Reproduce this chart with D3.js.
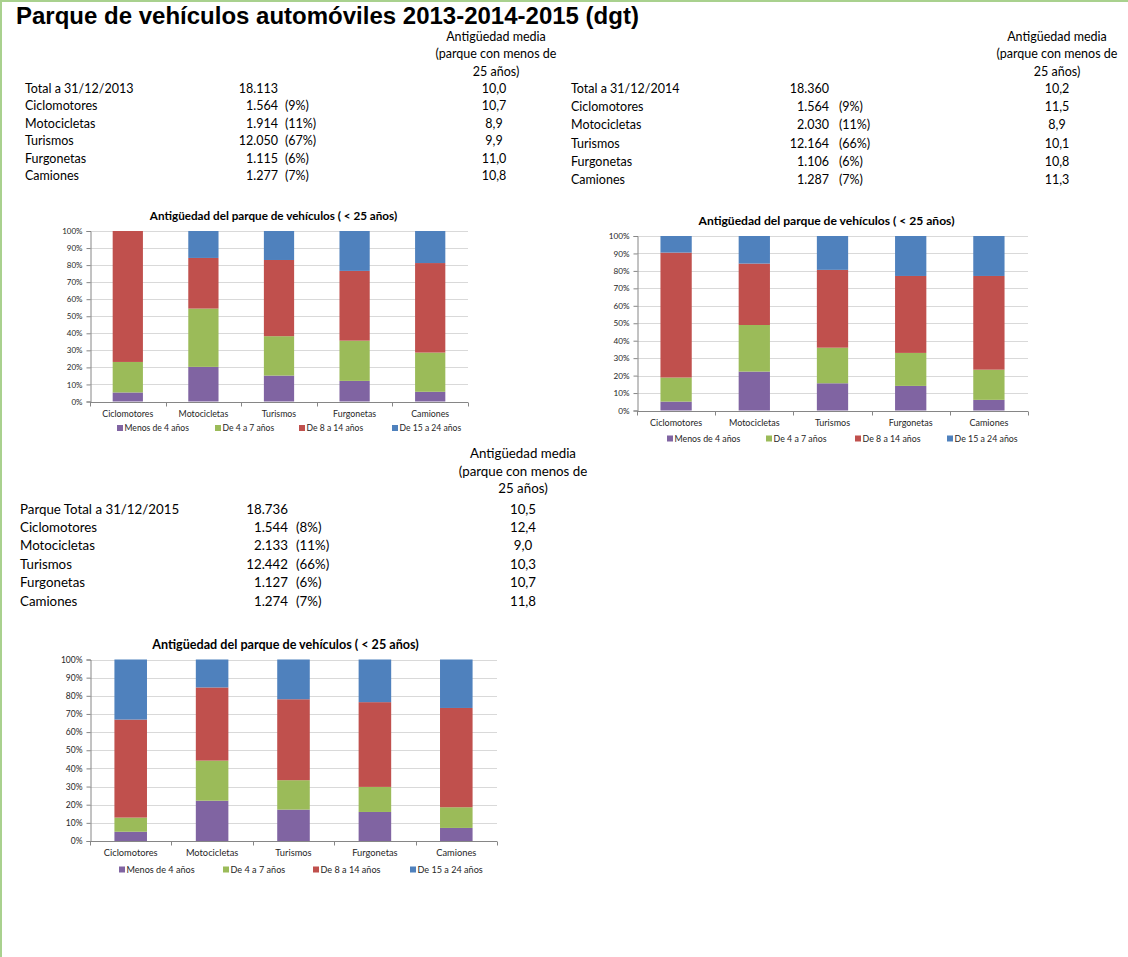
<!DOCTYPE html>
<html><head><meta charset="utf-8">
<script src="https://cdn.jsdelivr.net/npm/d3@7"></script>
<style>
html,body{margin:0;padding:0;background:#fff;}
svg{display:block;}
</style></head><body>
<svg id="c" width="1128" height="957"></svg>
<script>
// ---------------- DATA ----------------
const categories = ["Ciclomotores", "Motocicletas", "Turismos", "Furgonetas", "Camiones"];
const ageGroups = ["Menos de 4 años", "De 4 a 7 años", "De 8 a 14 años", "De 15 a 24 años"];
const yTickValues = [0, 10, 20, 30, 40, 50, 60, 70, 80, 90, 100];

// 2013 chart: share (%) of each age group
const menos4_2013  = [5.3, 20.3, 15.2, 12.1, 5.7];
const de4a7_2013   = [17.9, 34.2, 23.1, 23.6, 23.0];
const de8a14_2013  = [76.8, 29.7, 44.7, 40.9, 52.5];
const de15a24_2013 = [0.0, 15.8, 17.0, 23.4, 18.8];
// 2014 chart
const menos4_2014  = [5.1, 22.3, 15.6, 14.1, 6.1];
const de4a7_2014   = [13.8, 26.7, 20.4, 18.9, 17.3];
const de8a14_2014  = [71.6, 35.2, 44.6, 44.1, 53.7];
const de15a24_2014 = [9.5, 15.8, 19.4, 22.9, 22.9];
// 2015 chart
const menos4_2015  = [5.1, 22.2, 17.3, 16.0, 7.2];
const de4a7_2015   = [7.8, 22.1, 16.2, 13.8, 11.4];
const de8a14_2015  = [54.0, 40.3, 44.6, 46.7, 54.7];
const de15a24_2015 = [33.1, 15.4, 21.9, 23.5, 26.7];

// Tables
const headerLines = ["Antigüedad media", "(parque con menos de", "25 años)"];
const rowLabels2013 = ["Total a 31/12/2013", "Ciclomotores", "Motocicletas", "Turismos", "Furgonetas", "Camiones"];
const parque2013 = [18113, 1564, 1914, 12050, 1115, 1277];
const cuota2013 = [null, 9, 11, 67, 6, 7];
const antiguedad2013 = [10.0, 10.7, 8.9, 9.9, 11.0, 10.8];

const rowLabels2014 = ["Total a 31/12/2014", "Ciclomotores", "Motocicletas", "Turismos", "Furgonetas", "Camiones"];
const parque2014 = [18360, 1564, 2030, 12164, 1106, 1287];
const cuota2014 = [null, 9, 11, 66, 6, 7];
const antiguedad2014 = [10.2, 11.5, 8.9, 10.1, 10.8, 11.3];

const rowLabels2015 = ["Parque Total a 31/12/2015", "Ciclomotores", "Motocicletas", "Turismos", "Furgonetas", "Camiones"];
const parque2015 = [18736, 1544, 2133, 12442, 1127, 1274];
const cuota2015 = [null, 8, 11, 66, 6, 7];
const antiguedad2015 = [10.5, 12.4, 9.0, 10.3, 10.7, 11.8];

const pageTitle = "Parque de vehículos automóviles 2013-2014-2015 (dgt)";
const chartTitle = "Antigüedad del parque de vehículos ( < 25 años)";

// ---------------- STYLE / LAYOUT ----------------
const ageColors = ["#8064A2", "#9BBB59", "#C0504D", "#4F81BD"];
const FONT = "Lato, 'Open Sans', sans-serif";
const es = d3.formatLocale({decimal: ",", thousands: ".", grouping: [3], currency: ["", " €"]});
const fmtInt = es.format(",d");
const fmtAge = es.format(",.1f");

const svg = d3.select("#c");
svg.append("rect").attr("x", 0).attr("y", 0).attr("width", 1128).attr("height", 957).attr("fill", "#fff");
svg.append("rect").attr("x", 0).attr("y", 0).attr("width", 1128).attr("height", 2).attr("fill", "#a9d18e");
svg.append("rect").attr("x", 0).attr("y", 0).attr("width", 2).attr("height", 957).attr("fill", "#a9d18e");

svg.append("text").attr("x", 16).attr("y", 24)
  .attr("font-family", "'Liberation Sans', Arial, sans-serif").attr("font-weight", "bold")
  .attr("font-size", 24).attr("fill", "#000").text(pageTitle);

function drawTable(t) {
  const g = svg.append("g").attr("font-family", FONT).attr("font-size", t.fs).attr("fill", "#000");
  headerLines.forEach((h, i) => {
    g.append("text").attr("x", t.hx).attr("y", t.hy[i]).attr("text-anchor", "middle").text(h);
  });
  t.labels.forEach((lab, i) => {
    const y = t.ry0 + i * t.rstep;
    g.append("text").attr("x", t.lx).attr("y", y).text(lab);
    g.append("text").attr("x", t.nx).attr("y", y).attr("text-anchor", "end").text(fmtInt(t.parque[i]));
    if (t.cuota[i] != null) g.append("text").attr("x", t.px).attr("y", y).text("(" + t.cuota[i] + "%)");
    g.append("text").attr("x", t.vx).attr("y", y).attr("text-anchor", "middle").text(fmtAge(t.age[i]));
  });
}

drawTable({labels: rowLabels2013, parque: parque2013, cuota: cuota2013, age: antiguedad2013,
  fs: 12.5, lx: 25, nx: 278, px: 285, vx: 494, hx: 496, hy: [41, 58, 75.5], ry0: 93, rstep: 17.4});
drawTable({labels: rowLabels2014, parque: parque2014, cuota: cuota2014, age: antiguedad2014,
  fs: 12.5, lx: 571, nx: 829, px: 839, vx: 1057, hx: 1057, hy: [41, 58, 75.5], ry0: 93, rstep: 18.2});
drawTable({labels: rowLabels2015, parque: parque2015, cuota: cuota2015, age: antiguedad2015,
  fs: 13.3, lx: 20, nx: 288, px: 296, vx: 523, hx: 523, hy: [457.5, 475.5, 493], ry0: 513.5, rstep: 18.4});

function drawChart(c, m4, d47, d814, d1524) {
  const rows = categories.map((cat, i) => ({cat, [ageGroups[0]]: m4[i], [ageGroups[1]]: d47[i], [ageGroups[2]]: d814[i], [ageGroups[3]]: d1524[i]}));
  const stacked = d3.stack().keys(ageGroups).offset(d3.stackOffsetExpand)(rows);
  const y = d3.scaleLinear().domain([0, 1]).range([c.yBot, c.yTop]);
  const xOuter = d3.scaleBand().domain(categories).range([c.x0, c.x1]).padding(0);
  const xBar = d3.scaleBand().domain(categories).range([c.x0, c.x1]).paddingInner(0.6).paddingOuter(0.3);
  const g = svg.append("g").attr("font-family", FONT);
  const fs = c.fs;

  // gridlines
  g.append("g").selectAll("line").data(yTickValues.filter(v => v > 0)).join("line")
    .attr("x1", c.x0).attr("x2", c.x1)
    .attr("y1", d => Math.round(y(d / 100)) + 0.5).attr("y2", d => Math.round(y(d / 100)) + 0.5)
    .attr("stroke", "#d9d9d9").attr("stroke-width", 1);

  // bars
  g.append("g").selectAll("g").data(stacked).join("g").attr("fill", (d, i) => ageColors[i])
    .selectAll("rect").data(d => d).join("rect")
    .attr("x", d => xBar(d.data.cat)).attr("width", xBar.bandwidth())
    .attr("y", d => y(d[1])).attr("height", d => y(d[0]) - y(d[1]));

  // y axis
  const ya = g.append("g").attr("transform", `translate(${Math.round(c.x0) + 0.5},0)`)
    .call(d3.axisLeft(y).tickValues(yTickValues.map(v => v / 100)).tickSize(4).tickPadding(4)
      .tickFormat(d => Math.round(d * 100) + "%"));
  ya.select(".domain").attr("stroke", "#868686");
  ya.selectAll(".tick line").attr("stroke", "#868686");
  ya.selectAll(".tick text").attr("font-family", FONT).attr("font-size", fs).attr("fill", "#262626");

  // x axis
  const xa = g.append("g").attr("transform", `translate(0,${Math.round(c.yBot) + 0.5})`);
  xa.append("line").attr("x1", c.x0).attr("x2", c.x1).attr("stroke", "#868686");
  const bounds = categories.map(cat => xOuter(cat)).concat([c.x1]);
  xa.selectAll("line.b").data(bounds).join("line").attr("class", "b")
    .attr("x1", d => Math.round(d) + 0.5).attr("x2", d => Math.round(d) + 0.5).attr("y1", 0).attr("y2", 4)
    .attr("stroke", "#868686");
  g.append("g").selectAll("text").data(categories).join("text")
    .attr("x", d => xOuter(d) + xOuter.bandwidth() / 2).attr("y", c.catY)
    .attr("text-anchor", "middle").attr("font-size", c.cfs).attr("fill", "#262626").text(d => d);

  // title
  g.append("text").attr("x", c.titleX).attr("y", c.titleY).attr("text-anchor", "middle")
    .attr("font-weight", "bold").attr("font-size", c.tfs).attr("fill", "#000").text(chartTitle);

  // legend
  const lg = g.append("g").selectAll("g").data(ageGroups).join("g")
    .attr("transform", (d, i) => `translate(${c.legX[i]},${c.legY})`);
  lg.append("rect").attr("x", 0).attr("y", -3).attr("width", 6).attr("height", 6).attr("fill", (d, i) => ageColors[i]);
  lg.append("text").attr("x", 7.5).attr("y", 3.2).attr("font-size", c.lfs).attr("fill", "#262626").text(d => d);
}

drawChart({x0: 90, x1: 468, yTop: 231, yBot: 401.5, titleX: 273.5, titleY: 220, tfs: 11.7, fs: 8, cfs: 8.8, lfs: 8.6,
  catY: 417, legY: 428, legX: [117, 215, 299, 392]}, menos4_2013, de4a7_2013, de8a14_2013, de15a24_2013);
drawChart({x0: 637, x1: 1028, yTop: 236, yBot: 410.5, titleX: 826.5, titleY: 225, tfs: 12.1, fs: 8.2, cfs: 9, lfs: 8.8,
  catY: 425.5, legY: 438.5, legX: [667, 766, 855, 947]}, menos4_2014, de4a7_2014, de8a14_2014, de15a24_2014);
drawChart({x0: 90, x1: 497, yTop: 659.5, yBot: 841, titleX: 285.5, titleY: 648.5, tfs: 12.6, fs: 8.5, cfs: 9.3, lfs: 9.1,
  catY: 856, legY: 869.5, legX: [119, 223, 313, 410]}, menos4_2015, de4a7_2015, de8a14_2015, de15a24_2015);
</script>
</body></html>
